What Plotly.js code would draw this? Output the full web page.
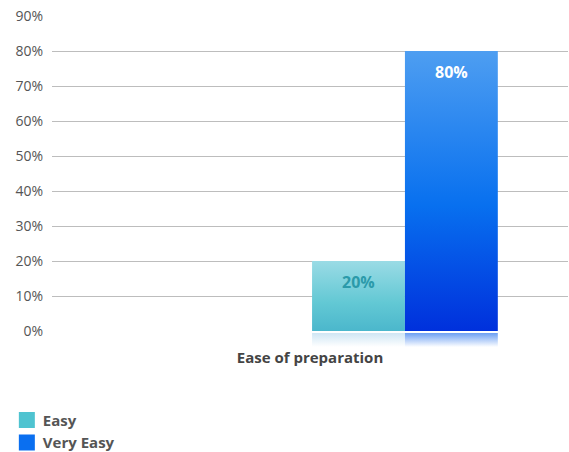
<!DOCTYPE html>
<html><head><meta charset="utf-8">
<script src="https://cdn.plot.ly/plotly-3.0.1.min.js"></script>
<style>html,body{margin:0;padding:0;background:#fff}#chart{width:569px;height:452px}</style>
</head><body><div id="chart"></div>
<script>
const categories = ["Ease of preparation"];
const seriesNames = ["Easy", "Very Easy"];
const easyValues = [20];
const veryEasyValues = [80];
const yTickVals = [0,10,20,30,40,50,60,70,80,90];
const yTickText = ["0%","10%","20%","30%","40%","50%","60%","70%","80%","90%"];

const font = "Open Sans, Noto Sans, sans-serif";
const barW = 0.18, easyOff = 0.004, veryOff = 0.184;
const traces = [
  {type:'bar', name:seriesNames[0], x:categories, y:easyValues,
   width:barW, offset:easyOff, marker:{color:'#4fc3d0'}, hoverinfo:'none'},
  {type:'bar', name:seriesNames[1], x:categories, y:veryEasyValues,
   width:barW, offset:veryOff, marker:{color:'#0a6ff0'}, hoverinfo:'none'}
];
const labelColors = ['#2b9aaa', '#ffffff'];
const annotations = [[easyValues, easyOff], [veryEasyValues, veryOff]].flatMap(([vals, off], i) =>
  vals.map((v, j) => ({x: j + off + barW/2, y: v, xref:'x', yref:'y', text: v + '%', showarrow:false,
    yanchor:'middle', yshift:-21, font:{family:font, size:16, color:labelColors[i], weight:'bold'}})));

const layout = {
  width:569, height:452, margin:{l:52,r:1,t:16,b:121, autoexpand:false},
  paper_bgcolor:'#fff', plot_bgcolor:'#fff', barmode:'overlay',
  font:{family:font, color:'#555'},
  annotations: annotations,
  xaxis:{type:'category', range:[-0.5,0.5], showgrid:false, zeroline:false, showline:false, automargin:false,
         ticks:'', tickfont:{family:font, size:15, color:'#444', weight:'bold'}, ticklabelstandoff:16},
  yaxis:{range:[0,90], tickvals:yTickVals, ticktext:yTickText, showgrid:true, gridcolor:'#bdbdbd',
         gridwidth:1, zeroline:false, showline:false, ticks:'', ticklabelstandoff:8, automargin:false,
         tickfont:{family:font, size:14, color:'#555'}},
  showlegend:true,
  legend:{xref:'container', yref:'container', x:0.005, y:0.107, xanchor:'left', yanchor:'top',
          font:{family:font, size:15, color:'#555', weight:'bold'}, tracegroupgap:0,
          itemwidth:30, bgcolor:'rgba(0,0,0,0)'}
};
function post(gd){
  const svg = gd.querySelector('svg.main-svg');
  const NS='http://www.w3.org/2000/svg';
  let defs = svg.querySelector('defs');
  const grads = [
    {id:'gEasy', stops:[['0','#9adbe5'],['0.6','#62c8d4'],['1','#4bb7cc']]},
    {id:'gVery', stops:[['0','#4e9ef1'],['0.55','#0870ef'],['1','#0030dc']]},
    {id:'rEasy', stops:[['0','#cfe6f4'],['1','#ffffff']]},
    {id:'rVery', stops:[['0','#6c9ff3'],['1','#ffffff']]}
  ];
  grads.forEach(g=>{
    const lg=document.createElementNS(NS,'linearGradient');
    lg.setAttribute('id',g.id); lg.setAttribute('x1','0');lg.setAttribute('y1','0');
    lg.setAttribute('x2','0');lg.setAttribute('y2','1');
    g.stops.forEach(s=>{const st=document.createElementNS(NS,'stop');
      st.setAttribute('offset',s[0]);st.setAttribute('stop-color',s[1]);lg.appendChild(st);});
    defs.appendChild(lg);
  });
  const svgRect = svg.getBoundingClientRect();
  const refl = document.createElementNS(NS,'g');
  svg.appendChild(refl);
  const groups = svg.querySelectorAll('.barlayer .trace');
  const ids=[['gEasy','rEasy'],['gVery','rVery']];
  groups.forEach((tr,i)=>{
    tr.querySelectorAll('.point path').forEach(p=>{
      p.style.fill='url(#'+ids[i][0]+')';
      const bb=p.getBoundingClientRect();
      const r=document.createElementNS(NS,'rect');
      r.setAttribute('x',bb.left-svgRect.left); r.setAttribute('y',bb.bottom-svgRect.top+2);
      r.setAttribute('width',bb.width); r.setAttribute('height',14);
      r.setAttribute('fill','url(#'+ids[i][1]+')');
      refl.appendChild(r);
    });
  });
  document.querySelectorAll('.legendpoints').forEach(g=>{
    g.setAttribute('transform','translate(4,0)');
    g.querySelectorAll('path').forEach(p=>{
      p.setAttribute('d','M8,8H-8V-8H8Z');
      p.style.strokeWidth='0';
    });
  });
}
Plotly.newPlot('chart', traces, layout, {staticPlot:true, displayModeBar:false}).then(gd=>{
  setTimeout(()=>post(gd), 50);
});
</script></body></html>
